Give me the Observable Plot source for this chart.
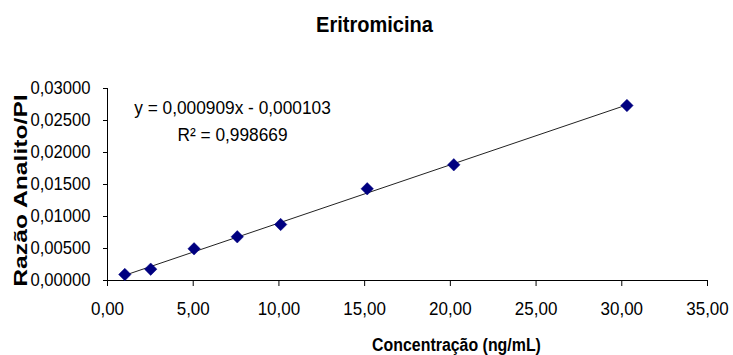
<!DOCTYPE html>
<html>
<head>
<meta charset="utf-8">
<script src="https://cdn.jsdelivr.net/npm/d3@7"></script>
<script src="https://cdn.jsdelivr.net/npm/@observablehq/plot@0.6"></script>
<style>
  body { margin: 0; background: #fff; }
</style>
</head>
<body>
<div id="chart"></div>
<script>
const title = "Eritromicina";
const xLabel = "Concentração (ng/mL)";
const yLabel = "Razão Analito/PI";
const concentrations = [1.01, 2.52, 5.05, 7.57, 10.1, 15.15, 20.2, 30.3];
const ratios = [0.00094, 0.00177, 0.00495, 0.00683, 0.00875, 0.01433, 0.01808, 0.02734];
const slope = 0.000909;
const intercept = -0.000103;
const equationText = "y = 0,000909x - 0,000103";
const r2Text = "R² = 0,998669";
const xTicks = [0, 5, 10, 15, 20, 25, 30, 35];
const yTicks = [0, 0.005, 0.01, 0.015, 0.02, 0.025, 0.03];

const points = concentrations.map((c, i) => ({x: c, y: ratios[i]}));
const xExt = d3.extent(concentrations);
const trend = xExt.map(x => ({x, y: slope * x + intercept}));

const sans = "'Liberation Sans', Arial, sans-serif";

const plot = Plot.plot({
  width: 733,
  height: 355,
  marginLeft: 107,
  marginRight: 26,
  marginTop: 88,
  marginBottom: 75,
  style: {fontFamily: sans, fontSize: "18.5px", color: "#000", background: "#fff"},
  x: {domain: [0, 35], ticks: xTicks, tickFormat: d => d.toFixed(2).replace(".", ","), tickSize: 6, tickPadding: 15, label: null},
  y: {domain: [0, 0.03], ticks: yTicks, tickFormat: d => d.toFixed(5).replace(".", ","), tickSize: 4, tickPadding: 13, label: null},
  marks: [
    Plot.ruleX([0], {stroke: "#000"}),
    Plot.ruleY([0], {stroke: "#000"}),
    Plot.line(trend, {x: "x", y: "y", stroke: "#222", strokeWidth: 1}),
    Plot.dot(points, {x: "x", y: "y", symbol: "diamond2", r: 5.6, fill: "#000080", stroke: "#000080", strokeWidth: 0.5}),
    Plot.text([title], {className: "sq-title", frameAnchor: "top", textAnchor: "middle", lineAnchor: "middle", dx: -33, dy: -64, fontSize: 22.5, fontWeight: "bold"}),
    Plot.text([xLabel], {className: "sq-xlabel", frameAnchor: "bottom", textAnchor: "middle", lineAnchor: "middle", dx: 49, dy: 65, fontSize: 18.5, fontWeight: "bold"}),
    Plot.text([yLabel], {className: "sq-ylabel", frameAnchor: "left", textAnchor: "middle", lineAnchor: "middle", dx: -87, dy: 6, rotate: -90, fontSize: 19, fontWeight: "bold"}),
    Plot.text([equationText], {className: "sq-eq", frameAnchor: "top-left", textAnchor: "middle", lineAnchor: "middle", dx: 125, dy: 20, fontSize: 18.5}),
    Plot.text([r2Text], {className: "sq-eq", frameAnchor: "top-left", textAnchor: "middle", lineAnchor: "middle", dx: 125, dy: 47, fontSize: 18.5})
  ]
});
document.getElementById("chart").appendChild(plot);

// horizontally condense/stretch glyphs to mimic the original narrow typeface
function squeeze(selector, s) {
  d3.select(plot).selectAll(selector).selectAll("text").each(function() {
    const t = this.getAttribute("transform") || "";
    const x = +this.getAttribute("x") || 0;
    const y = +this.getAttribute("y") || 0;
    this.setAttribute("transform", `${t} translate(${x},${y}) scale(${s},1) translate(${-x},${-y})`);
  });
}
squeeze("g[aria-label='x-axis tick label']", 0.92);
squeeze("g[aria-label='y-axis tick label']", 0.9);
squeeze("g.sq-title", 0.89);
squeeze("g.sq-xlabel", 0.86);
squeeze("g.sq-ylabel", 1.3);
squeeze("g.sq-eq", 0.935);
</script>
</body>
</html>
